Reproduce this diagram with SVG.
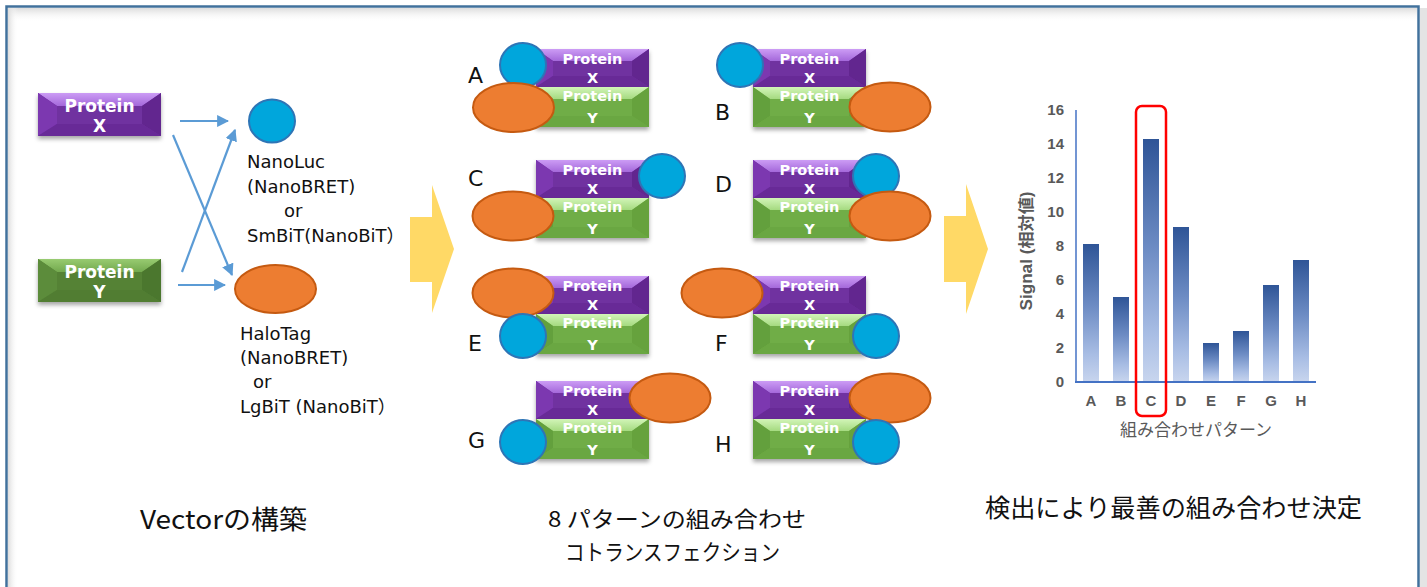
<svg xmlns="http://www.w3.org/2000/svg" width="1427" height="587" viewBox="0 0 1427 587">
<style>
.lbl{font-family:"DejaVu Sans","Noto Sans CJK JP",sans-serif;font-size:18px;fill:#111}
.let{font-family:"DejaVu Sans",sans-serif;font-size:22px;fill:#111}
.pt{font-family:"DejaVu Sans",sans-serif;font-weight:bold;fill:#fff;text-anchor:middle}
.pts{font-size:14.5px}
.ptb{font-size:17px}
.blue{fill:#00A6DC;stroke:#2E75B6;stroke-width:2}
.orange{fill:#ED7D31;stroke:#C55A11;stroke-width:2}
.arr{stroke:#5B9BD5;stroke-width:2.2;fill:none;marker-end:url(#ah)}
.jp{font-family:"Noto Sans CJK JP",sans-serif;fill:#111}
.tick{font-family:"Liberation Sans",Arial,sans-serif;font-weight:bold;font-size:15px;fill:#595959}
.yarrow{fill:#FFD966}
</style>
<defs>
<marker id="ah" viewBox="0 0 10 10" refX="9" refY="5" markerWidth="5.5" markerHeight="5.5" orient="auto" markerUnits="strokeWidth">
<path d="M0,0 L10,5 L0,10 z" fill="#5B9BD5"/>
</marker>
<linearGradient id="gPurTop" x1="0" y1="0" x2="0" y2="1"><stop offset="0" stop-color="#CC9CF5"/><stop offset="1" stop-color="#A468DA"/></linearGradient>
<linearGradient id="gGrnTop" x1="0" y1="0" x2="0" y2="1"><stop offset="0" stop-color="#D2F5B8"/><stop offset="1" stop-color="#A5DA80"/></linearGradient>
<linearGradient id="gDGrnTop" x1="0" y1="0" x2="0" y2="1"><stop offset="0" stop-color="#98CB70"/><stop offset="1" stop-color="#73A94F"/></linearGradient>
<linearGradient id="gBar" x1="0" y1="0" x2="0" y2="1"><stop offset="0" stop-color="#2F5597"/><stop offset="0.45" stop-color="#6D8CC4"/><stop offset="0.8" stop-color="#A8BDE4"/><stop offset="1" stop-color="#C8D5EE"/></linearGradient>
<linearGradient id="gTopSh" x1="0" y1="0" x2="0" y2="1"><stop offset="0" stop-color="#dcdcdc"/><stop offset="1" stop-color="#ffffff" stop-opacity="0"/></linearGradient>
<linearGradient id="gLeftSh" x1="0" y1="0" x2="1" y2="0"><stop offset="0" stop-color="#dcdcdc"/><stop offset="1" stop-color="#ffffff" stop-opacity="0"/></linearGradient>
<filter id="sh" x="-10%" y="-20%" width="120%" height="150%"><feDropShadow dx="0" dy="3" stdDeviation="2.2" flood-color="#000" flood-opacity="0.35"/></filter>
<g id="pxs">
<rect width="113" height="38" fill="#7030A0"/>
<polygon points="0,0 113,0 96,12 17,12" fill="url(#gPurTop)"/>
<polygon points="0,0 17,12 17,27 0,38" fill="#7B37B0"/>
<polygon points="113,0 113,38 96,27 96,12" fill="#62268F"/>
<polygon points="0,38 17,27 96,27 113,38" fill="#682A97"/>
</g>
<g id="pys">
<rect width="113" height="40" fill="#70AD47"/>
<polygon points="0,0 113,0 96,12 17,12" fill="url(#gGrnTop)"/>
<polygon points="0,0 17,12 17,29 0,40" fill="#64A03C"/>
<polygon points="113,0 113,40 96,29 96,12" fill="#66A23E"/>
<polygon points="0,40 17,29 96,29 113,40" fill="#6AA742"/>
</g>
<g id="pxb">
<rect width="123" height="43" fill="#7030A0"/>
<polygon points="0,0 123,0 104,13 19,13" fill="url(#gPurTop)"/>
<polygon points="0,0 19,13 19,31 0,43" fill="#7B37B0"/>
<polygon points="123,0 123,43 104,31 104,13" fill="#62268F"/>
<polygon points="0,43 19,31 104,31 123,43" fill="#682A97"/>
</g>
<g id="pyb">
<rect width="123" height="43" fill="#548235"/>
<polygon points="0,0 123,0 104,13 19,13" fill="url(#gDGrnTop)"/>
<polygon points="0,0 19,13 19,31 0,43" fill="#5C8C3B"/>
<polygon points="123,0 123,43 104,31 104,13" fill="#4C772F"/>
<polygon points="0,43 19,31 104,31 123,43" fill="#517D33"/>
</g>
</defs>

<g id="frame">
<rect x="0" y="0" width="1427" height="587" fill="#ffffff"/>
<rect x="8" y="8" width="1409" height="14" fill="url(#gTopSh)"/>
<rect x="8" y="8" width="10" height="579" fill="url(#gLeftSh)"/>
<rect x="1420" y="8" width="7" height="579" fill="#e4e4e4"/>
<rect x="6.5" y="6.5" width="1412" height="600" fill="none" stroke="#41719C" stroke-width="2.5"/>
</g>

<g id="vector-stage">
<g id="protein-x">
<use href="#pxb" x="38" y="93" filter="url(#sh)"/>
<text class="pt ptb" x="99.5" y="112">Protein</text>
<text class="pt ptb" x="99.5" y="132">X</text>
</g>
<g id="protein-y">
<use href="#pyb" x="38" y="259" filter="url(#sh)"/>
<text class="pt ptb" x="99.5" y="278">Protein</text>
<text class="pt ptb" x="99.5" y="298">Y</text>
</g>
<g id="nanoluc">
<ellipse class="blue" cx="272" cy="121" rx="23" ry="21.5"/>
<text class="lbl" x="247" y="168">NanoLuc</text>
<text class="lbl" x="247" y="193">(NanoBRET)</text>
<text class="lbl" x="284" y="217">or</text>
<text class="lbl" x="247" y="242">SmBiT(NanoBiT）</text>
</g>
<g id="halotag">
<ellipse class="orange" cx="275.5" cy="289" rx="40.5" ry="24"/>
<text class="lbl" x="240" y="340">HaloTag</text>
<text class="lbl" x="240" y="364">(NanoBRET)</text>
<text class="lbl" x="253" y="388">or</text>
<text class="lbl" x="240" y="413">LgBiT (NanoBiT）</text>
</g>
</g>

<g id="connectors">
<line class="arr" x1="180" y1="121" x2="228" y2="121"/>
<line class="arr" x1="173" y1="135" x2="232" y2="275"/>
<line class="arr" x1="182" y1="272" x2="235" y2="130"/>
<line class="arr" x1="178" y1="285" x2="225" y2="285"/>
</g>

<g id="arrow-1"><polygon class="yarrow" points="410,217 432,217 432,185 454,249 432,313 432,282 410,282"/></g>
<g id="arrow-2"><polygon class="yarrow" points="944,216 966,216 966,184 988,249 966,314 966,282 944,282"/></g>

<g id="pattern-A">
<use href="#pxs" x="536" y="49" filter="url(#sh)"/><use href="#pys" x="536" y="87" filter="url(#sh)"/>
<text class="pt pts" x="592.5" y="64">Protein</text><text class="pt pts" x="592.5" y="83">X</text>
<text class="pt pts" x="592.5" y="101">Protein</text><text class="pt pts" x="592.5" y="123">Y</text>
<ellipse class="blue" cx="523" cy="65" rx="23" ry="22"/>
<ellipse class="orange" cx="513.5" cy="107.5" rx="40.5" ry="24.5"/>
<text class="let" x="468" y="83">A</text>
</g>
<g id="pattern-B">
<use href="#pxs" x="753" y="49" filter="url(#sh)"/><use href="#pys" x="753" y="87" filter="url(#sh)"/>
<text class="pt pts" x="809.5" y="64">Protein</text><text class="pt pts" x="809.5" y="83">X</text>
<text class="pt pts" x="809.5" y="101">Protein</text><text class="pt pts" x="809.5" y="123">Y</text>
<ellipse class="blue" cx="740" cy="65" rx="23" ry="22"/>
<ellipse class="orange" cx="890" cy="107" rx="40.5" ry="24.5"/>
<text class="let" x="715" y="120">B</text>
</g>
<g id="pattern-C">
<use href="#pxs" x="536" y="160" filter="url(#sh)"/><use href="#pys" x="536" y="198" filter="url(#sh)"/>
<text class="pt pts" x="592.5" y="175">Protein</text><text class="pt pts" x="592.5" y="194">X</text>
<text class="pt pts" x="592.5" y="212">Protein</text><text class="pt pts" x="592.5" y="234">Y</text>
<ellipse class="blue" cx="662" cy="176" rx="23" ry="22"/>
<ellipse class="orange" cx="513" cy="216" rx="40.5" ry="24.5"/>
<text class="let" x="468" y="186">C</text>
</g>
<g id="pattern-D">
<use href="#pxs" x="753" y="160" filter="url(#sh)"/><use href="#pys" x="753" y="198" filter="url(#sh)"/>
<text class="pt pts" x="809.5" y="175">Protein</text><text class="pt pts" x="809.5" y="194">X</text>
<text class="pt pts" x="809.5" y="212">Protein</text><text class="pt pts" x="809.5" y="234">Y</text>
<ellipse class="blue" cx="876" cy="176" rx="23" ry="22"/>
<ellipse class="orange" cx="890" cy="216" rx="40.5" ry="24.5"/>
<text class="let" x="715" y="192">D</text>
</g>
<g id="pattern-E">
<use href="#pxs" x="536" y="276" filter="url(#sh)"/><use href="#pys" x="536" y="314" filter="url(#sh)"/>
<text class="pt pts" x="592.5" y="291">Protein</text><text class="pt pts" x="592.5" y="310">X</text>
<text class="pt pts" x="592.5" y="328">Protein</text><text class="pt pts" x="592.5" y="350">Y</text>
<ellipse class="orange" cx="513" cy="293" rx="40.5" ry="24.5"/>
<ellipse class="blue" cx="523" cy="336" rx="23" ry="22"/>
<text class="let" x="468" y="351">E</text>
</g>
<g id="pattern-F">
<use href="#pxs" x="753" y="276" filter="url(#sh)"/><use href="#pys" x="753" y="314" filter="url(#sh)"/>
<text class="pt pts" x="809.5" y="291">Protein</text><text class="pt pts" x="809.5" y="310">X</text>
<text class="pt pts" x="809.5" y="328">Protein</text><text class="pt pts" x="809.5" y="350">Y</text>
<ellipse class="orange" cx="722" cy="293" rx="40.5" ry="24.5"/>
<ellipse class="blue" cx="876" cy="336" rx="23" ry="22"/>
<text class="let" x="715" y="351">F</text>
</g>
<g id="pattern-G">
<use href="#pxs" x="536" y="381" filter="url(#sh)"/><use href="#pys" x="536" y="419" filter="url(#sh)"/>
<text class="pt pts" x="592.5" y="396">Protein</text><text class="pt pts" x="592.5" y="415">X</text>
<text class="pt pts" x="592.5" y="433">Protein</text><text class="pt pts" x="592.5" y="455">Y</text>
<ellipse class="orange" cx="670" cy="398" rx="40.5" ry="24.5"/>
<ellipse class="blue" cx="523" cy="442" rx="23" ry="22"/>
<text class="let" x="468" y="448">G</text>
</g>
<g id="pattern-H">
<use href="#pxs" x="753" y="381" filter="url(#sh)"/><use href="#pys" x="753" y="419" filter="url(#sh)"/>
<text class="pt pts" x="809.5" y="396">Protein</text><text class="pt pts" x="809.5" y="415">X</text>
<text class="pt pts" x="809.5" y="433">Protein</text><text class="pt pts" x="809.5" y="455">Y</text>
<ellipse class="orange" cx="890" cy="398" rx="40.5" ry="24.5"/>
<ellipse class="blue" cx="876" cy="442" rx="23" ry="22"/>
<text class="let" x="715" y="452">H</text>
</g>

<g id="chart">
<g fill="url(#gBar)">
<rect x="1083" y="244" width="16" height="138"/>
<rect x="1113" y="297" width="16" height="85"/>
<rect x="1143" y="139" width="16" height="243"/>
<rect x="1173" y="227" width="16" height="155"/>
<rect x="1203" y="343" width="16" height="39"/>
<rect x="1233" y="331" width="16" height="51"/>
<rect x="1263" y="285" width="16" height="97"/>
<rect x="1293" y="260" width="16" height="122"/>
</g>
<line x1="1076" y1="110" x2="1076" y2="383" stroke="#4472C4" stroke-width="1.5"/>
<line x1="1075" y1="382" x2="1316" y2="382" stroke="#4472C4" stroke-width="2"/>
<g class="tick" text-anchor="end">
<text x="1064" y="387">0</text>
<text x="1064" y="353">2</text>
<text x="1064" y="319">4</text>
<text x="1064" y="285">6</text>
<text x="1064" y="251">8</text>
<text x="1064" y="217">10</text>
<text x="1064" y="183">12</text>
<text x="1064" y="149">14</text>
<text x="1064" y="115">16</text>
</g>
<g class="tick" text-anchor="middle">
<text x="1091" y="406">A</text>
<text x="1121" y="406">B</text>
<text x="1151" y="406">C</text>
<text x="1181" y="406">D</text>
<text x="1211" y="406">E</text>
<text x="1241" y="406">F</text>
<text x="1271" y="406">G</text>
<text x="1301" y="406">H</text>
</g>
<text x="1196" y="436" text-anchor="middle" font-family="'Noto Sans CJK JP',sans-serif" font-size="17" fill="#595959">組み合わせパターン</text>
<text transform="translate(1032,251) rotate(-90)" text-anchor="middle" font-family="'Liberation Sans','Noto Sans CJK JP',sans-serif" font-weight="bold" font-size="16" fill="#595959" textLength="119" lengthAdjust="spacingAndGlyphs">Signal (相対値)</text>
<rect x="1136" y="106" width="30" height="310" rx="6" fill="none" stroke="#FF0000" stroke-width="2.5"/>
</g>

<g id="captions">
<text class="jp" x="140" y="529" font-size="26" textLength="167" lengthAdjust="spacingAndGlyphs">Vectorの構築</text>
<text class="jp" x="548" y="527" font-size="22" textLength="258" lengthAdjust="spacingAndGlyphs">8 パターンの組み合わせ</text>
<text class="jp" x="565" y="560" font-size="22" textLength="215" lengthAdjust="spacingAndGlyphs">コトランスフェクション</text>
<text class="jp" x="985" y="517" font-size="25" textLength="377" lengthAdjust="spacingAndGlyphs">検出により最善の組み合わせ決定</text>
</g>
</svg>
